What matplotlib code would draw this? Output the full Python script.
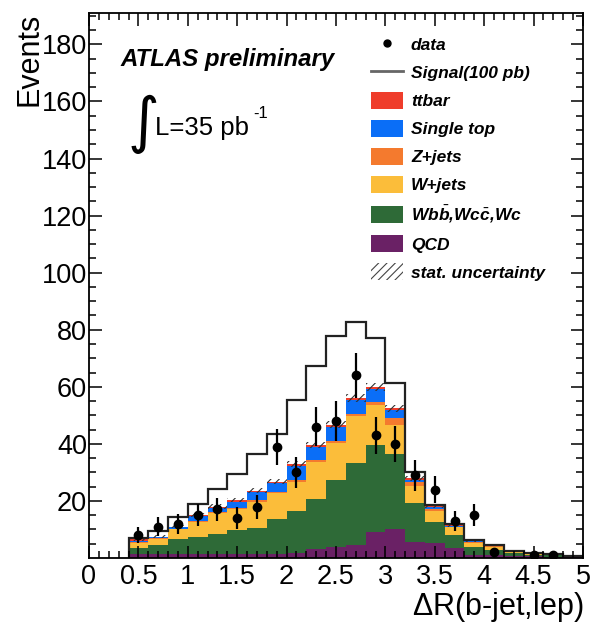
import numpy as np
import matplotlib
matplotlib.use("Agg")
import matplotlib.pyplot as plt
from matplotlib.lines import Line2D
from matplotlib.patches import Patch

plt.rcParams['font.family'] = ['Liberation Sans', 'DejaVu Sans']
plt.rcParams['mathtext.fontset'] = 'custom'
plt.rcParams['mathtext.rm'] = 'Liberation Sans'
plt.rcParams['mathtext.it'] = 'Liberation Sans:italic:bold'
plt.rcParams['hatch.linewidth'] = 0.8

# bin edges 0.4 .. 5.0, width 0.2
edges = np.round(np.arange(0.4, 5.01, 0.2), 2)

# cumulative tops of each stacked layer (bottom -> top)
qcd_top = [1.3, 1.3, 1.3, 1.3, 1.3, 1.3, 1.3, 1.5, 1.6, 3.2, 3.8, 4.6,
           9.2, 10.1, 5.7, 5.1, 3.4, 1.1, 1.0, 0.8, 0.6, 0.5, 0.4]
wbb_top = [3.4, 4.6, 6.5, 7.5, 8.3, 9.8, 10.6, 13.7, 16.5, 20.7, 27.4, 33.4,
           39.6, 36.5, 19.2, 12.7, 8.1, 4.0, 2.8, 1.8, 1.1, 0.9, 0.6]
wjets_top = [5.4, 6.8, 10.0, 12.7, 15.7, 17.1, 19.8, 22.7, 26.8, 33.8, 40.2, 49.6,
             53.7, 46.7, 25.3, 16.6, 10.8, 5.1, 4.0, 2.3, 1.4, 1.1, 0.7]
zjets_top = [5.6, 7.0, 10.3, 13.0, 16.0, 17.5, 20.2, 23.2, 27.5, 34.5, 41.0, 50.6,
             54.7, 49.0, 26.5, 17.0, 11.0, 5.5, 4.2, 2.4, 1.5, 1.2, 0.75]
stop_top = [6.0, 7.2, 10.7, 14.6, 17.5, 19.8, 23.0, 26.2, 32.3, 39.0, 45.9, 55.2,
            59.1, 51.8, 27.5, 17.8, 11.3, 5.9, 4.4, 2.5, 1.55, 1.25, 0.8]
ttbar_top = [6.6, 7.5, 11.0, 15.1, 18.0, 20.4, 23.6, 26.8, 32.9, 39.6, 46.7, 56.0,
             59.9, 52.5, 28.0, 18.2, 11.6, 6.1, 4.6, 2.6, 1.6, 1.3, 0.8]
stat_unc = [0.5, 0.5, 0.6, 0.7, 0.8, 0.8, 0.9, 0.9, 1.0, 1.1, 1.2, 1.3,
            1.3, 1.2, 0.9, 0.7, 0.6, 0.4, 0.4, 0.3, 0.2, 0.2, 0.2]

signal = [6.9, 9.6, 14.3, 19.0, 24.2, 29.5, 36.5, 43.5, 55.2, 67.4, 77.8, 82.6,
          77.1, 61.3, 30.3, 18.6, 11.9, 6.3, 4.7, 2.6, 1.6, 1.3, 0.8]

data_x = [0.5, 0.7, 0.9, 1.1, 1.3, 1.5, 1.7, 1.9, 2.1, 2.3, 2.5, 2.7,
          2.9, 3.1, 3.3, 3.5, 3.7, 3.9, 4.1, 4.5, 4.7]
data_y = [8, 11, 12, 15, 17, 14, 18, 39, 30, 46, 48, 64,
          43, 40, 29, 24, 13, 15, 2, 1, 1]

layers = [
    ("QCD", qcd_top, "#6a2165"),
    (r"W$b\bar{b}$,W$c\bar{c}$,Wc", wbb_top, "#2e6a37"),
    ("W+jets", wjets_top, "#fbbd3a"),
    ("Z+jets", zjets_top, "#f47a2e"),
    ("Single top", stop_top, "#0a6ef7"),
    ("ttbar", ttbar_top, "#ef3d2b"),
]

fig = plt.figure(figsize=(5.9, 6.34), dpi=100)
ax = fig.add_axes([89/590, 1-558/634, (583-89)/590, (558-13)/634])

bottom = np.zeros(len(edges) - 1)
for name, top, col in layers:
    top = np.array(top)
    ax.stairs(top, edges, baseline=bottom, fill=True, color=col, lw=0)
    bottom = top

total = np.array(ttbar_top)
unc = np.array(stat_unc)
ax.bar(edges[:-1], 2*unc, width=0.2, bottom=total-unc, align='edge',
       fill=False, hatch='////', edgecolor='#333333', lw=0)

ax.stairs(signal, edges, color='#222222', lw=1.6)

data_y = np.array(data_y, dtype=float)
ax.errorbar(data_x, data_y, yerr=np.sqrt(data_y), fmt='o', color='black',
            ms=6, elinewidth=1.6, capsize=0)

ax.set_xlim(0, 5)
ax.set_ylim(0, 191)
ax.set_xticks(np.arange(0, 5.01, 0.5))
ax.set_xticklabels(["%g" % v for v in np.arange(0, 5.01, 0.5)])
ax.set_xticks(np.arange(0, 5.01, 0.1), minor=True)
ax.set_yticks(np.arange(20, 181, 20))
ax.set_yticks(np.arange(5, 191, 5), minor=True)
ax.tick_params(which='both', direction='in', top=True, right=True,
               width=1.1, labelsize=19.5)
ax.tick_params(which='major', length=9)
ax.tick_params(which='minor', length=5)
ax.tick_params(axis='y', pad=1.5)
ax.tick_params(axis='x', pad=4)
for s in ax.spines.values():
    s.set_linewidth(1.3)

fig.text(583/590, 1-607/634, r"$\Delta$R(b-jet,lep)", ha='right', va='center',
         fontsize=22)
fig.text(29/590, 1-13/634, "Events", rotation=90, ha='center', va='top',
         fontsize=22)

ax.text(0.063, 0.914, "ATLAS preliminary", transform=ax.transAxes,
        fontsize=17.3, fontweight='bold', fontstyle='italic', va='center')
ax.text(0.078, 0.795, "\u222b", transform=ax.transAxes, fontsize=44,
        family='DejaVu Sans', va='center', ha='left')
ax.text(0.134, 0.789, "L=35 pb", transform=ax.transAxes,
        fontsize=18.5, va='center')
ax.text(0.333, 0.815, "-1", transform=ax.transAxes,
        fontsize=12, va='center')

handles = [
    Line2D([], [], marker='o', color='black', ls='none', ms=5),
    Line2D([], [], color='#666666', lw=2),
]
labels = ["data", "Signal(100 pb)"]
for name, top, col in reversed(layers):
    handles.append(Patch(facecolor=col, edgecolor='none'))
    labels.append(name)
handles.append(Patch(facecolor='none', edgecolor='#444444', hatch='////', lw=0))
labels.append("stat. uncertainty")

leg = fig.legend(handles, labels, loc='upper left',
                 bbox_to_anchor=(371/590, 1-36/634), frameon=False,
                 borderpad=0, borderaxespad=0, handlelength=1.85,
                 handleheight=1.15, handletextpad=0.45, labelspacing=0.6,
                 prop={'size': 12.5, 'style': 'italic', 'weight': 'bold'})

fig.savefig("out.png", dpi=100)
